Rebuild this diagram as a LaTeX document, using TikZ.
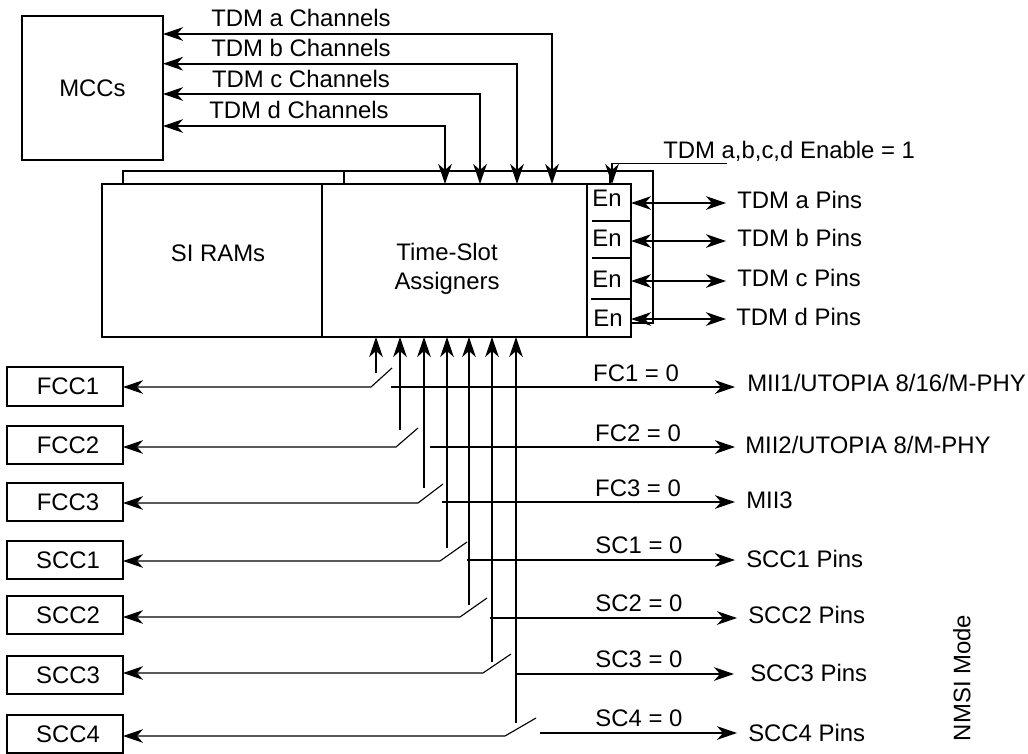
\documentclass[tikz,border=0pt]{standalone}
\usepackage{fontspec}
\setmainfont{Liberation Sans}
\usetikzlibrary{positioning,arrows.meta,calc}
\tikzset{
  fig/.style={x=0.25mm,y=-0.25mm,font=\fontsize{17}{20.5}\selectfont},
  blk/.style={draw,line width=1.3pt,align=center,inner sep=0pt,outer sep=0pt},
  iobox/.style={blk,minimum width=29mm,minimum height=9.6mm,
                execute at begin node=\hspace*{1.5mm}},
  ln/.style={-{Stealth[length=5mm,width=3.4mm,inset=1.5mm]},line width=1.2pt},
  lnb/.style={{Stealth[length=5mm,width=3.4mm,inset=1.5mm]}-{Stealth[length=5mm,width=3.4mm,inset=1.5mm]},line width=1.2pt},
  ctl/.style={line width=1.2pt},
  swl/.style={-{Stealth[length=5mm,width=3.4mm,inset=1.5mm]},line width=0.8pt},
  txt/.style={inner sep=0pt,align=center},
  lbl/.style={txt,text height=4.2mm,text depth=0pt},
  pin/.style={lbl,anchor=west},
}
\begin{document}
\begin{tikzpicture}[fig]
\useasboundingbox (0,0) rectangle (1028,754);

\node[blk,minimum width=35.25mm,minimum height=36mm] (mcc) at (92.5,88) {MCCs};

\node[blk,minimum width=55mm,minimum height=38.25mm] (ram) at (212,260.5) {};
\node[blk,minimum width=66.25mm,minimum height=38.25mm,right=0mm of ram] (tsa) {};
\node[blk,minimum width=11mm,minimum height=38.25mm,right=0mm of tsa] (encol) {};
\node[lbl] (ramtxt) at (218,253) {SI RAMs};
\node[txt] (tsatxt) at (447,269) {Time-Slot\\Assigners};

\node[lbl] (ena) at (607,198) {En};
\node[lbl] (enb) at (607,238) {En};
\node[lbl] (enc) at (607,279) {En};
\node[lbl] (end) at (608,318) {En};
\draw[ctl] (592,221) -- (631,221);
\draw[ctl] (592,258) -- (631,258);
\draw[ctl] (591,299) -- (631,299);

% enable rail
\coordinate (raila) at (123,184);
\coordinate (railb) at (344,184);
\coordinate (railend) at (631,323);
\draw[ctl] (raila) |- (653,171) |- (railend);
\draw[ctl] (railb) -- (344,171);
\draw[ctl] (610,171) -- (610,184);
\coordinate (enin) at (612,184);
\coordinate (enfrom) at (727,163.5);
\draw[ln] (enfrom) -| (enin);
\node[pin] (entxt) at (663,150) {TDM a,b,c,d Enable = 1};

% channels to the MCCs
\coordinate (cha) at (552,184);
\coordinate (chb) at (517,184);
\coordinate (chc) at (480,184);
\coordinate (chd) at (445,184);
\draw[lnb] (mcc.east |- 0,34) -| (cha);
\draw[lnb] (mcc.east |- 0,63.7) -| (chb);
\draw[lnb] (mcc.east |- 0,94) -| (chc);
\draw[lnb] (mcc.east |- 0,126) -| (chd);
\node[lbl] (cata) at (301,18) {TDM a Channels};
\node[lbl] (catb) at (301,48) {TDM b Channels};
\node[lbl] (catc) at (301,79) {TDM c Channels};
\node[lbl] (catd) at (299,110) {TDM d Channels};

% TDM pins
\node[pin] (pina) at (737,200) {TDM a Pins};
\node[pin] (pinb) at (737,238) {TDM b Pins};
\node[pin] (pinc) at (737,278) {TDM c Pins};
\node[pin] (pind) at (736,317) {TDM d Pins};
\draw[lnb] (encol.east |- 0,203) -- (726,203);
\draw[lnb] (encol.east |- 0,241) -- (726,241);
\draw[lnb] (encol.east |- 0,281) -- (726,281);
\draw[lnb] (encol.east |- 0,319) -- (726,319);

% serial blocks
\node[iobox] (fa) at (65,386.5) {FCC1};
\node[iobox,below=5.02mm of fa] (fb) {FCC2};
\node[iobox,below=4.65mm of fb] (fc) {FCC3};
\node[iobox,below=4.9mm of fc] (sa) {SCC1};
\node[iobox,below=4.15mm of sa] (sb) {SCC2};
\node[iobox,below=5.4mm of sb] (sc) {SCC3};
\node[iobox,below=5.15mm of sc] (sd) {SCC4};

\coordinate (cfa) at (371,387);
\coordinate (cfb) at (396,447);
\coordinate (cfc) at (418,503);
\coordinate (csa) at (440,561);
\coordinate (csb) at (460,617);
\coordinate (csc) at (483,673);
\coordinate (csd) at (505,736);
\draw[swl] (cfa) -- ++(21,-19) (cfa) -- (fa.east |- cfa);
\draw[swl] (cfb) -- ++(22,-19) (cfb) -- (fb.east |- cfb);
\draw[swl] (cfc) -- ++(25,-19) (cfc) -- (fc.east |- cfc);
\draw[swl] (csa) -- ++(27,-19) (csa) -- (sa.east |- csa);
\draw[swl] (csb) -- ++(27,-19) (csb) -- (sb.east |- csb);
\draw[swl] (csc) -- ++(28,-19) (csc) -- (sc.east |- csc);
\draw[swl] (csd) -- ++(31,-18) (csd) -- (sd.east |- csd);

% switch inputs
\coordinate (ifa) at (376,373);
\coordinate (ifb) at (400,430);
\coordinate (ifc) at (424,488);
\coordinate (isa) at (447,548);
\coordinate (isb) at (469,605);
\coordinate (isc) at (492,662);
\coordinate (isd) at (516,723);
\draw[ln] (ifa) -- (ifa |- tsa.south);
\draw[ln] (ifb) -- (ifb |- tsa.south);
\draw[ln] (ifc) -- (ifc |- tsa.south);
\draw[ln] (isa) -- (isa |- tsa.south);
\draw[ln] (isb) -- (isb |- tsa.south);
\draw[ln] (isc) -- (isc |- tsa.south);
\draw[ln] (isd) -- (isd |- tsa.south);

% pin side
\node[pin] (pfa) at (747,383) {MII1/UTOPIA 8/16/M-PHY};
\node[pin] (pfb) at (745,445) {MII2/UTOPIA 8/M-PHY};
\node[pin] (pfc) at (746,500) {MII3};
\node[pin] (psa) at (746,559) {SCC1 Pins};
\node[pin] (psb) at (748,615) {SCC2 Pins};
\node[pin] (psc) at (750,673) {SCC3 Pins};
\node[pin] (psd) at (748,733) {SCC4 Pins};
\coordinate (ofa) at (391,387);
\coordinate (ofb) at (430,447);
\coordinate (ofc) at (442,502);
\coordinate (osa) at (467,560);
\coordinate (osb) at (490,618);
\coordinate (osc) at (516,674);
\coordinate (osd) at (540,733);
\draw[ln] (ofa) -- ++(344,0);
\draw[ln] (ofb) -- ++(305,0);
\draw[ln] (ofc) -- ++(293,0);
\draw[ln] (osa) -- ++(268,0);
\draw[ln] (osb) -- ++(247,0);
\draw[ln] (osc) -- ++(218,0);
\draw[ln] (osd) -- ++(197,0);
\node[lbl] (tfa) at (636,373) {FC1 = 0};
\node[lbl] (tfb) at (638,433) {FC2 = 0};
\node[lbl] (tfc) at (638,488) {FC3 = 0};
\node[lbl] (tsa1) at (639,545) {SC1 = 0};
\node[lbl] (tsb1) at (639,603) {SC2 = 0};
\node[lbl] (tsc1) at (639,659) {SC3 = 0};
\node[lbl] (tsd1) at (639,718) {SC4 = 0};

\node[lbl,rotate=90] (mode) at (962,678) {NMSI Mode};
\end{tikzpicture}
\end{document}
